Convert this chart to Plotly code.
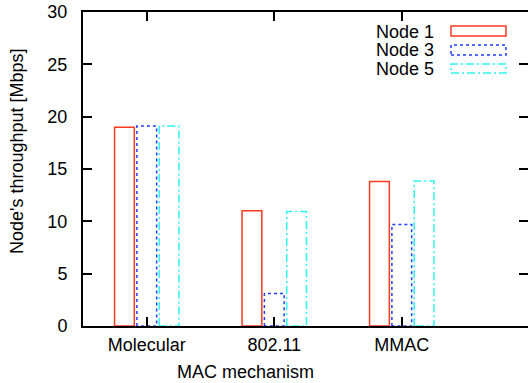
import plotly.graph_objects as go

categories = ["Molecular", "802.11", "MMAC"]
series_names = ["Node 1", "Node 3", "Node 5"]
node1 = [19.0, 11.0, 13.8]
node3 = [19.1, 3.1, 9.7]
node5 = [19.1, 10.95, 13.85]
y_ticks = [0, 5, 10, 15, 20, 25, 30]

series_values = [node1, node3, node5]
colors = ["#ff3b1f", "#1f3fff", "#2ef2f2"]
dashes = ["solid", "3px,3px", "8px,3px,2px,3px"]
offsets = [-0.175, 0.0, 0.175]
BAR_W = 0.155

FONT = "Liberation Sans, Arial, Helvetica, sans-serif"
FS = 18

fig = go.Figure()
for name, vals, col, dsh, off in zip(series_names, series_values, colors, dashes, offsets):
    xs, ys = [], []
    for i, v in enumerate(vals):
        x0 = i + off - BAR_W / 2
        x1 = i + off + BAR_W / 2
        xs += [x0, x0, x1, x1, x0, None]
        ys += [0, v, v, 0, 0, None]
    fig.add_trace(go.Scatter(x=xs, y=ys, mode="lines", name=name,
                             line=dict(color=col, width=1.5, dash=dsh),
                             showlegend=False, hoverinfo="skip"))

# invisible trace for the right-side mirrored ticks
fig.add_trace(go.Scatter(x=[0], y=[0], yaxis="y2", mode="markers",
                         marker=dict(opacity=0), showlegend=False, hoverinfo="skip"))

W, H = 528, 383
L, R, T, B = 83, 0, 12, 57

fig.update_layout(
    width=W, height=H, autosize=False,
    margin=dict(l=L, r=R, t=T, b=B, pad=0),
    plot_bgcolor="white", paper_bgcolor="white",
    font=dict(family=FONT, size=FS, color="black"),
    xaxis=dict(range=[-0.5, 2.99], tickvals=[0, 1, 2], ticktext=categories,
               ticks="inside", ticklen=9, tickwidth=1.5, tickcolor="black",
               showline=True, linecolor="black", linewidth=2, mirror="ticks",
               showgrid=False, zeroline=False, ticklabelstandoff=1),
    yaxis=dict(range=[0, 30], tickvals=y_ticks,
               ticks="inside", ticklen=9, tickwidth=1.5, tickcolor="black",
               showline=True, linecolor="black", linewidth=2, mirror=False,
               showgrid=False, zeroline=False, ticklabelstandoff=10),
    yaxis2=dict(range=[0, 30], tickvals=y_ticks, overlaying="y", side="right",
                ticks="inside", ticklen=9, tickwidth=1.5, tickcolor="black",
                showline=False, showticklabels=False, showgrid=False, zeroline=False),
    showlegend=False,
)

# axis titles
fig.add_annotation(text="MAC mechanism", xref="paper", yref="paper",
                   x=(245.5 - L) / (W - L - R), y=-(372 - (H - B)) / (H - T - B),
                   showarrow=False, xanchor="center", yanchor="middle",
                   font=dict(size=FS))
fig.add_annotation(text="Node's throughput [Mbps]", xref="paper", yref="paper",
                   x=-(L - 17) / (W - L - R), y=((H - B) - 151) / (H - T - B),
                   showarrow=False, xanchor="center", yanchor="middle",
                   textangle=-90, font=dict(size=FS))

# legend (drawn manually to mimic wide line-styled samples)
pw, ph = W - L - R, H - T - B
def px(x):
    return (x - L) / pw
def py(y):
    return ((H - B) - y) / ph

leg_rows = [(26, 36, 31.5), (45, 55, 50), (64, 73, 69)]
for name, col, dsh, (ytop, ybot, yc) in zip(series_names, colors, dashes, leg_rows):
    fig.add_shape(type="rect", xref="paper", yref="paper",
                  x0=px(451), x1=px(506), y0=py(ybot), y1=py(ytop),
                  line=dict(color=col, width=1.5, dash=dsh), fillcolor="rgba(0,0,0,0)")
    fig.add_annotation(text=name, xref="paper", yref="paper",
                       x=px(436), y=py(yc), showarrow=False,
                       xanchor="right", yanchor="middle", font=dict(size=FS))

fig.write_html("out.html", config={"displayModeBar": False},
               post_script="document.body.style.margin='0';document.body.style.overflow='hidden';")
